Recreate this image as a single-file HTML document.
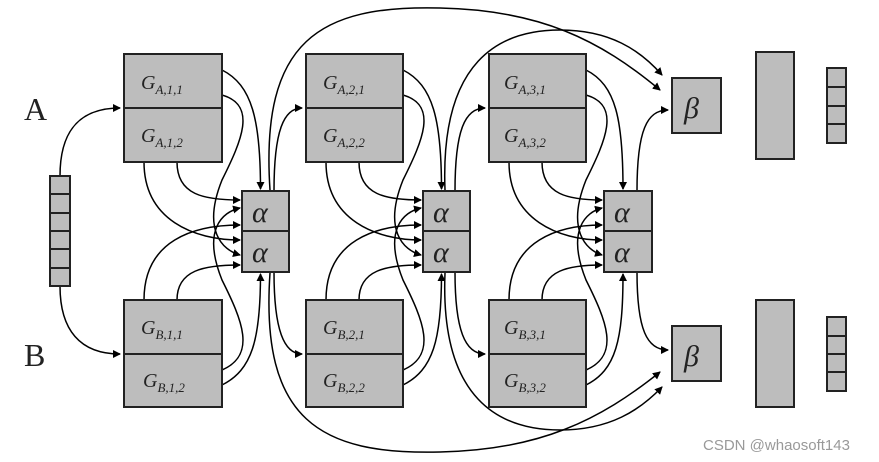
<!DOCTYPE html>
<html><head><meta charset="utf-8"><style>
html,body{margin:0;padding:0;background:#fff}
svg{display:block}
text{font-family:"Liberation Serif",serif;font-style:italic;fill:#222}
</style></head><body>
<svg id="s" width="879" height="462" viewBox="0 0 879 462" xmlns="http://www.w3.org/2000/svg">
<defs><marker id="a" markerWidth="8" markerHeight="8" refX="7" refY="4" orient="auto" markerUnits="userSpaceOnUse"><path d="M0,0 L8,4 L0,8 z" fill="#000"/></marker></defs>
<g id="lines" fill="none" stroke="#000" stroke-width="1.5" marker-end="url(#a)"></g>
<g stroke="#222" stroke-width="2" fill="#bdbdbd">
<rect x="124" y="54" width="98" height="108"/><line x1="124" y1="108" x2="222" y2="108"/>
<rect x="124" y="300" width="98" height="107"/><line x1="124" y1="354" x2="222" y2="354"/>
<rect x="306" y="54" width="97" height="108"/><line x1="306" y1="108" x2="403" y2="108"/>
<rect x="306" y="300" width="97" height="107"/><line x1="306" y1="354" x2="403" y2="354"/>
<rect x="489" y="54" width="97" height="108"/><line x1="489" y1="108" x2="586" y2="108"/>
<rect x="489" y="300" width="97" height="107"/><line x1="489" y1="354" x2="586" y2="354"/>
<rect x="242" y="191" width="47" height="81"/><line x1="242" y1="231" x2="289" y2="231"/>
<rect x="423" y="191" width="47" height="81"/><line x1="423" y1="231" x2="470" y2="231"/>
<rect x="604" y="191" width="48" height="81"/><line x1="604" y1="231" x2="652" y2="231"/>
<rect x="672" y="78" width="49" height="55"/><rect x="672" y="326" width="49" height="55"/>
<rect x="756" y="52" width="38" height="107"/><rect x="756" y="300" width="38" height="107"/>
<rect x="827" y="68" width="19" height="75"/><line x1="827" y1="87" x2="846" y2="87"/><line x1="827" y1="106" x2="846" y2="106"/><line x1="827" y1="124" x2="846" y2="124"/>
<rect x="827" y="317" width="19" height="74"/><line x1="827" y1="336" x2="846" y2="336"/><line x1="827" y1="354" x2="846" y2="354"/><line x1="827" y1="372" x2="846" y2="372"/>
<rect x="50" y="176" width="20" height="110"/><line x1="50" y1="194" x2="70" y2="194"/><line x1="50" y1="213" x2="70" y2="213"/><line x1="50" y1="231" x2="70" y2="231"/><line x1="50" y1="249" x2="70" y2="249"/><line x1="50" y1="268" x2="70" y2="268"/>
</g>
<text x="24" y="120" font-size="32" style="font-style:normal">A</text>
<text x="24" y="366" font-size="32" style="font-style:normal">B</text>
<g font-size="20">
<text x="141" y="89">G<tspan font-size="13" dy="5">A,1,1</tspan></text>
<text x="141" y="142">G<tspan font-size="13" dy="5">A,1,2</tspan></text>
<text x="141" y="334">G<tspan font-size="13" dy="5">B,1,1</tspan></text>
<text x="143" y="387">G<tspan font-size="13" dy="5">B,1,2</tspan></text>
<text x="323" y="89">G<tspan font-size="13" dy="5">A,2,1</tspan></text>
<text x="323" y="142">G<tspan font-size="13" dy="5">A,2,2</tspan></text>
<text x="323" y="334">G<tspan font-size="13" dy="5">B,2,1</tspan></text>
<text x="323" y="387">G<tspan font-size="13" dy="5">B,2,2</tspan></text>
<text x="504" y="89">G<tspan font-size="13" dy="5">A,3,1</tspan></text>
<text x="504" y="142">G<tspan font-size="13" dy="5">A,3,2</tspan></text>
<text x="504" y="334">G<tspan font-size="13" dy="5">B,3,1</tspan></text>
<text x="504" y="387">G<tspan font-size="13" dy="5">B,3,2</tspan></text>
</g>
<g font-size="30">
<text x="252" y="222">α</text><text x="252" y="262">α</text>
<text x="433" y="222">α</text><text x="433" y="262">α</text>
<text x="614" y="222">α</text><text x="614" y="262">α</text>
<text x="684" y="118">β</text><text x="684" y="366">β</text>
</g>
<text x="703" y="450" font-size="15" style="font-style:normal;font-family:'Liberation Sans',sans-serif;fill:#999">CSDN @whaosoft143</text>
</svg>
<script>
var g=document.getElementById('lines');
function p(d){var e=document.createElementNS('http://www.w3.org/2000/svg','path');e.setAttribute('d',d);g.appendChild(e);}
var X=[[124,222,242,289],[306,403,423,470],[489,586,604,652]];
X.forEach(function(c,i){
var gl=c[0],gr=c[1],al=c[2],ar=c[3],am=(al+ar)/2;
p('M'+gr+',70 C'+(gr+30)+',85 '+(am-5)+',120 '+(am-5)+',189');
p('M'+gr+',95 C'+(gr+35)+',105 '+(gr+20)+',140 '+(gr)+',180 C'+(gr-20)+',230 '+(gr)+',250 '+(al-2)+',255');
p('M'+(gl+20)+',162 C'+(gl+20)+',220 '+(gl+70)+',240 '+(al-2)+',240');
p('M'+(gl+53)+',162 C'+(gl+53)+',195 '+(gl+80)+',200 '+(al-2)+',200');
p('M'+gr+',385 C'+(gr+30)+',370 '+(am-5)+',340 '+(am-5)+',274');
p('M'+gr+',370 C'+(gr+35)+',355 '+(gr+20)+',320 '+(gr)+',280 C'+(gr-20)+',230 '+(gr)+',212 '+(al-2)+',208');
p('M'+(gl+20)+',300 C'+(gl+20)+',240 '+(gl+70)+',225 '+(al-2)+',225');
p('M'+(gl+53)+',300 C'+(gl+53)+',270 '+(gl+80)+',265 '+(al-2)+',265');
var nx=i<2?X[i+1][0]:672, ty=i<2?108:110, by=i<2?354:350;
p('M'+(ar-15)+',191 C'+(ar-15)+',130 '+(ar-5)+','+ty+' '+(nx-4)+','+ty);
p('M'+(ar-15)+',272 C'+(ar-15)+',330 '+(ar-5)+','+by+' '+(nx-4)+','+by);
});
p('M60,176 C60,130 80,108 120,108');
p('M60,286 C60,330 80,354 120,354');
p('M270,190 C260,40 320,5 440,8 C540,10 600,40 660,90');
p('M270,273 C260,420 320,455 440,452 C540,450 600,420 660,372');
p('M445,190 C440,60 500,30 560,30 C610,30 640,50 662,75');
p('M445,273 C440,400 500,430 560,430 C610,430 640,410 662,387');
</script>
</body></html>
